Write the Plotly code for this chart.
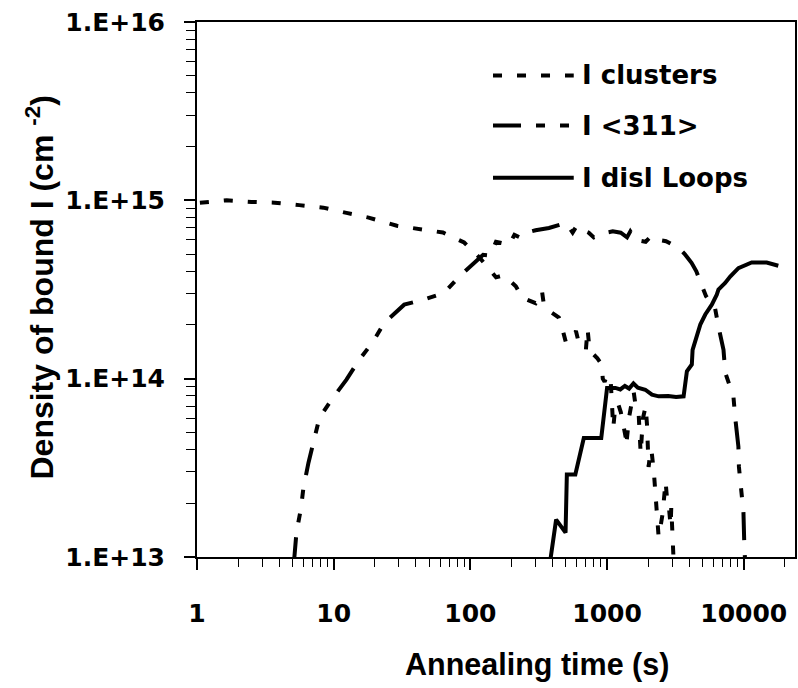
import plotly.graph_objects as go

# Annealing time (s) and density of bound interstitials (cm^-2)
clusters_t = [1.05, 1.65, 2.5, 3.7, 5.6, 8.4, 12.4, 18, 29, 42, 63, 90, 116, 154, 175, 198,
              215, 239, 270, 300, 334, 345, 376, 444, 480, 500, 540, 592, 620, 700, 720,
              745, 773, 850, 915, 930, 960, 1000, 1064, 1080, 1110, 1150, 1200, 1260, 1300,
              1368, 1380, 1450, 1567, 1620, 1700, 1762, 1830, 1916, 1960, 2014, 2080, 2119,
              2200, 2266, 2320, 2383, 2450, 2550, 2680, 2750, 2818, 2880, 2917, 2950, 3000,
              3069]
clusters_n = [9.7e14, 1.0e15, 9.8e14, 9.7e14, 9.4e14, 9.1e14, 8.5e14, 8.0e14, 7.2e14, 6.9e14,
              6.6e14, 5.8e14, 4.8e14, 3.7e14, 3.8e14, 3.5e14, 3.3e14, 2.85e14, 2.75e14,
              2.65e14, 3.1e14, 2.6e14, 2.4e14, 2.2e14, 1.8e14, 1.6e14, 1.65e14, 1.85e14,
              1.6e14, 1.45e14, 1.9e14, 1.45e14, 1.4e14, 1.3e14, 1.2e14, 1.0e14, 9.6e13,
              1.05e14, 9.6e13, 7.3e13, 5.3e13, 7.0e13, 7.3e13, 6.5e13, 5.8e13, 4.7e13,
              4.2e13, 6.1e13, 8.4e13, 7.0e13, 6.5e13, 3.8e13, 6.0e13, 7.0e13, 5.5e13,
              3.2e13, 4.0e13, 3.9e13, 3.0e13, 2.2e13, 1.77e13, 1.3e13, 1.45e13, 1.75e13,
              2.65e13, 2.1e13, 2.0e13, 1.6e13, 1.5e13, 1.9e13, 1.13e13, 9.5e12]

rod_t = [5.1, 5.34, 5.76, 6.01, 6.54, 7.11, 7.87, 9.62, 12.4, 15.1, 19.5, 23.5, 32.8, 45.2,
         64.3, 82.7, 124, 140, 154, 192, 210, 230, 255, 300, 376, 500, 560, 600, 655, 735,
         800, 979, 1100, 1259, 1400, 1480, 1619, 1916, 2100, 2383, 2700, 3334, 3700, 4150,
         4500, 4910, 5300, 5710, 6100, 6530, 7110, 7330, 8410, 8690, 9140, 9220, 9620, 9950,
         10120, 10280]
rod_n = [9.0e12, 1.37e13, 1.87e13, 2.45e13, 3.38e13, 4.5e13, 6.05e13, 7.6e13, 9.87e13,
         1.25e14, 1.62e14, 2.06e14, 2.6e14, 2.77e14, 3.03e14, 3.73e14, 4.95e14, 4.9e14,
         5.86e14, 5.64e14, 6.4e14, 6.2e14, 6.58e14, 6.8e14, 7.0e14, 7.48e14, 6.6e14, 7.2e14,
         6.84e14, 6.58e14, 6.2e14, 6.58e14, 6.7e14, 6.58e14, 6.2e14, 6.7e14, 6.0e14, 5.86e14,
         6.3e14, 6.0e14, 5.9e14, 5.42e14, 5.0e14, 4.46e14, 4.0e14, 3.36e14, 2.9e14, 2.67e14,
         2.6e14, 1.96e14, 1.45e14, 1.08e14, 7.9e13, 5.9e13, 4.16e13, 3.2e13, 2.39e13,
         1.78e13, 1.1e13, 9.0e12]

loops_t = [380, 424, 497, 508, 586, 676, 907, 1000, 1151, 1250, 1350, 1450, 1560, 1680, 1905,
           2130, 2383, 2800, 3200, 3631, 3838, 4170, 4225, 4540, 4810, 5230, 5840, 6350, 6530,
           7310, 7960, 9140, 11430, 14720, 17900]
loops_n = [9.0e12, 1.62e13, 1.37e13, 2.9e13, 2.9e13, 4.65e13, 4.65e13, 8.87e13, 8.87e13,
           8.7e13, 9.1e13, 8.8e13, 9.4e13, 8.9e13, 8.67e13, 8.13e13, 7.96e13, 8.0e13, 7.9e13,
           7.96e13, 1.1e14, 1.2e14, 1.45e14, 1.73e14, 2.01e14, 2.29e14, 2.6e14, 2.96e14,
           3.16e14, 3.44e14, 3.74e14, 4.17e14, 4.48e14, 4.48e14, 4.3e14]

series_names = ["I clusters", "I <311>", "I disl Loops"]
series_dash = ["9px,15px", "28px,15px,9px,15px,9px,15px", "solid"]

x_major = [1, 10, 100, 1000, 10000]
x_labels = ["1", "10", "100", "1000", "10000"]
y_major = [1e13, 1e14, 1e15, 1e16]
y_labels = ["1.E+13", "1.E+14", "1.E+15", "1.E+16"]

x_minor = [k * 10 ** e for e in range(0, 5) for k in range(2, 10) if k * 10 ** e < 24000]
y_minor = [k * 10 ** e for e in range(13, 16) for k in range(2, 10)]

W, H = 798, 688
L, R, T, B = 197, 1, 22, 131
PW, PH = W - L - R, H - T - B


def px_x(p):
    return (p - L) / PW


def px_y(p):
    return (H - B - p) / PH


fig = go.Figure()
for t, n, name, dash in zip([clusters_t, rod_t, loops_t], [clusters_n, rod_n, loops_n],
                            series_names, series_dash):
    fig.add_trace(go.Scatter(x=t, y=n, mode="lines", name=name,
                             line=dict(color="black", width=4, dash=dash),
                             showlegend=False))

# Key drawn inside the plot area, upper right
key_rows = [75.5, 125.5, 177.7]
shapes = []
annotations = []
for name, dash, yy in zip(series_names, series_dash, key_rows):
    shapes.append(dict(type="line", xref="paper", yref="paper",
                       x0=px_x(494), x1=px_x(575), y0=px_y(yy), y1=px_y(yy),
                       line=dict(color="black", width=4, dash=dash)))
    annotations.append(dict(xref="paper", yref="paper", x=px_x(581), y=px_y(yy),
                            xanchor="left", yanchor="middle", showarrow=False,
                            text=name.replace("<", "&lt;").replace(">", "&gt;"),
                            font=dict(family="DejaVu Sans", size=26, color="black",
                                      weight="bold")))

annotations.append(dict(xref="paper", yref="paper", x=px_x(538), y=px_y(664),
                        xanchor="center", yanchor="middle", showarrow=False,
                        text="Annealing time (s)",
                        font=dict(family="Liberation Sans", size=30.5, color="black",
                                  weight="bold")))
annotations.append(dict(xref="paper", yref="paper", x=px_x(39), y=px_y(288),
                        xanchor="center", yanchor="middle", showarrow=False,
                        textangle=-90,
                        text="Density of bound I (cm <sup>-2</sup>)",
                        font=dict(family="Liberation Sans", size=32, color="black",
                                  weight="bold")))

tick_font = dict(family="DejaVu Sans", size=25, color="black", weight="bold")

fig.update_layout(
    width=W, height=H,
    margin=dict(l=L, r=R, t=T, b=B, pad=0),
    paper_bgcolor="white", plot_bgcolor="white",
    shapes=shapes, annotations=annotations,
    xaxis=dict(type="log", range=[0, 4.375],
               tickmode="array", tickvals=x_major, ticktext=x_labels,
               ticks="outside", ticklen=11, tickwidth=1.5, tickcolor="black",
               minor=dict(tickmode="array", tickvals=x_minor, ticks="outside",
                          ticklen=8, tickwidth=1.2, tickcolor="black", showgrid=False),
               showgrid=False, zeroline=False,
               showline=True, linecolor="black", linewidth=2, mirror=True,
               tickfont=tick_font, ticklabelstandoff=22),
    yaxis=dict(type="log", range=[13, 16],
               tickmode="array", tickvals=y_major, ticktext=y_labels,
               ticks="outside", ticklen=11, tickwidth=1.5, tickcolor="black",
               minor=dict(tickmode="array", tickvals=y_minor, ticks="outside",
                          ticklen=9, tickwidth=1.2, tickcolor="black", showgrid=False),
               showgrid=False, zeroline=False,
               showline=True, linecolor="black", linewidth=2, mirror=True,
               tickfont=tick_font, ticklabelstandoff=14),
)

fig.write_html("out.html")
